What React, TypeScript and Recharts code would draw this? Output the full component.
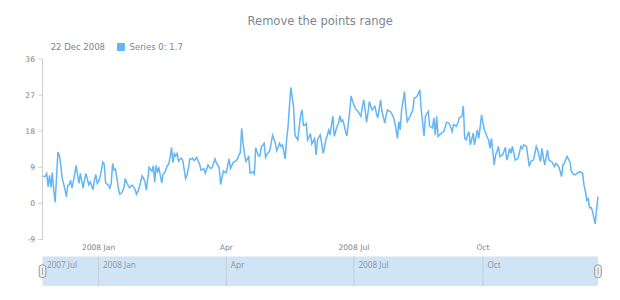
import { LineChart, Line, XAxis, YAxis, Brush } from "recharts"

// daily values, 22 Nov 2007 .. 22 Dec 2008
const values = [
  6.8, 6.7, 6.8, 7.4, 4.2, 7.0, 4.0, 7.7, 3.3, 0.3,
  6.5, 12.8, 12.0, 9.5, 6.3, 5.0, 3.5, 1.6, 4.5, 4.6,
  5.8, 3.8, 5.5, 7.5, 9.5, 7.0, 5.0, 7.5, 5.5, 3.8,
  6.0, 7.5, 6.0, 4.6, 5.3, 4.5, 3.4, 5.8, 7.2, 5.0,
  5.5, 6.5, 8.3, 10.3, 9.8, 5.1, 4.8, 4.5, 3.8, 5.1,
  10.0, 8.4, 8.5, 6.5, 4.0, 2.3, 2.5, 3.0, 3.8, 6.2,
  5.2, 4.5, 3.9, 4.3, 4.5, 4.0, 3.5, 2.3, 3.0, 4.0,
  5.5, 6.9, 6.3, 5.5, 3.3, 6.0, 9.0, 8.5, 8.0, 9.4,
  5.3, 9.5, 7.9, 8.8, 7.0, 5.1, 7.4, 7.6, 8.5, 9.4,
  9.8, 11.5, 13.9, 10.2, 12.4, 11.8, 12.5, 10.5, 11.0, 11.3,
  10.7, 8.5, 6.2, 7.0, 8.7, 11.1, 11.0, 11.3, 10.7, 11.0,
  11.5, 10.5, 9.8, 8.3, 8.5, 8.7, 7.5, 8.5, 9.6, 9.0,
  8.7, 9.0, 10.0, 11.1, 10.0, 9.6, 8.7, 4.7, 6.5, 8.1,
  7.8, 7.6, 9.5, 11.1, 8.7, 9.5, 10.2, 10.4, 10.6, 11.1,
  12.0, 12.7, 18.7, 15.0, 12.4, 10.5, 11.0, 11.8, 7.5, 7.7,
  7.9, 7.4, 13.9, 12.8, 11.8, 11.8, 14.2, 14.5, 15.0, 11.5,
  12.3, 12.7, 13.1, 15.0, 17.0, 16.0, 15.0, 13.1, 14.0, 15.0,
  14.2, 14.6, 13.0, 11.1, 15.8, 19.0, 24.0, 28.9, 26.5, 24.0,
  17.0, 16.4, 15.8, 19.0, 22.0, 23.3, 19.5, 19.5, 19.9, 15.8,
  16.5, 17.4, 14.8, 15.5, 16.2, 12.1, 15.8, 16.5, 17.1, 15.0,
  12.5, 14.0, 15.8, 17.0, 18.3, 17.1, 19.5, 21.7, 16.7, 18.0,
  19.2, 20.0, 21.9, 20.4, 20.8, 19.6, 18.0, 16.8, 20.0, 22.9,
  26.8, 25.5, 24.6, 23.7, 23.2, 22.9, 22.3, 21.7, 24.0, 25.8,
  23.3, 20.2, 22.5, 25.4, 24.2, 23.3, 23.8, 24.2, 22.5, 21.3,
  23.5, 25.8, 22.9, 21.5, 20.0, 22.0, 23.3, 23.0, 22.9, 22.3,
  21.7, 20.4, 18.5, 16.2, 20.4, 18.3, 23.3, 25.5, 27.9, 23.5,
  20.4, 21.0, 21.7, 22.5, 23.3, 26.3, 26.4, 26.7, 27.5, 28.3,
  23.3, 20.0, 16.8, 21.7, 22.3, 22.9, 19.2, 19.0, 18.8, 21.3,
  17.0, 21.7, 16.7, 17.1, 17.3, 17.7, 17.9, 19.0, 20.2, 20.2,
  19.9, 19.0, 17.9, 19.6, 19.5, 19.2, 20.0, 21.3, 21.5, 21.7,
  24.3, 16.2, 15.8, 17.0, 17.9, 14.6, 16.0, 17.5, 14.6, 16.5,
  18.3, 16.2, 19.0, 22.1, 20.0, 18.3, 17.5, 16.5, 15.8, 13.7,
  16.2, 13.0, 9.6, 12.1, 13.0, 14.2, 11.7, 11.9, 12.1, 13.0,
  14.0, 10.8, 12.0, 13.7, 12.5, 14.2, 12.5, 10.8, 11.0, 11.2,
  12.7, 14.2, 13.7, 14.6, 14.4, 14.2, 11.7, 9.2, 10.4, 10.6,
  10.8, 12.5, 14.2, 13.3, 11.8, 10.4, 13.7, 11.5, 9.6, 11.5,
  13.3, 10.8, 10.6, 10.4, 9.8, 9.2, 10.0, 9.6, 9.2, 8.0,
  6.7, 9.6, 10.0, 11.0, 11.7, 11.0, 10.4, 7.9, 7.5, 7.1,
  7.2, 7.5, 7.7, 7.9, 7.7, 7.5, 4.6, 3.0, 0.8, 1.2,
  -1.1, -1.0, -1.8, -3.5, -5.1, -1.5, 1.7,
]

const START = Date.UTC(2007, 10, 22)
const DAY = 86400000
const monthNames = ["Jan", "Feb", "Mar", "Apr", "May", "Jun", "Jul", "Aug", "Sep", "Oct", "Nov", "Dec"]

const mainTicks = [Date.UTC(2008, 0, 1), Date.UTC(2008, 3, 1), Date.UTC(2008, 6, 1), Date.UTC(2008, 9, 1)]
const mainTickLabels = ["2008 Jan", "Apr", "2008 Jul", "Oct"]
const scrollerTicks = [START, ...mainTicks]
const scrollerLabels = ["2007 Jul", "2008 Jan", "Apr", "2008 Jul", "Oct"]
const yTicks = [-9, 0, 9, 18, 27, 36]

const data = values.map((v, i) => ({ t: START + i * DAY, value: v }))
const last = data[data.length - 1]
const lastDate = new Date(last.t)
const lastLabel = `${lastDate.getUTCDate()} ${monthNames[lastDate.getUTCMonth()]} ${lastDate.getUTCFullYear()}`

const TEXT = "#7c868e"
const LINE = "#64b5f6"
const FONT = "DejaVu Sans"
const BAND_H = 29.5

function ScrollerTick(props: any) {
  const { x, y, payload } = props
  const i = scrollerTicks.indexOf(payload.value)
  return (
    <g>
      {i > 0 && <line x1={x} x2={x} y1={y} y2={y + BAND_H} stroke="#c3ccd6" />}
      <text x={x + 4.5} y={y + 11} fontSize={8.2} fill="#8a939a" fontFamily="Open Sans">
        {scrollerLabels[i]}
      </text>
    </g>
  )
}

function Handle(props: any) {
  const cx = props.x + props.width / 2
  const cy = props.y + props.height / 2
  return (
    <g>
      <rect x={cx - 3.3} y={cy - 6.3} width={6.6} height={12.6} rx={2.5} fill="#eeeeee" stroke="#9a9a9a" />
      <line x1={cx} x2={cx} y1={cy - 3.5} y2={cy + 3.5} stroke="#a8a8a8" />
    </g>
  )
}

export default function App() {
  return (
    <div style={{ position: "absolute", left: 0, top: 0, width: 620, height: 300, background: "#fff" }}>
      <div
        style={{
          position: "absolute", left: 42.5, top: 13.5, width: 555.5, textAlign: "center",
          fontFamily: FONT, fontSize: 11.5, lineHeight: "14px", color: TEXT,
        }}
      >
        Remove the points range
      </div>
      <div
        style={{
          position: "absolute", left: 50.7, top: 41, height: 12, display: "flex", alignItems: "center",
          fontFamily: FONT, fontSize: 8.5, lineHeight: "12px", color: TEXT, whiteSpace: "nowrap",
        }}
      >
        <span>{lastLabel}</span>
        <span style={{ display: "inline-block", width: 8, height: 8, background: LINE, marginLeft: 12, marginRight: 4.5 }} />
        <span>Series 0: {last.value}</span>
      </div>
      <LineChart width={620} height={300} data={data} margin={{ top: 59, right: 22, bottom: 4, left: 0 }}>
        <YAxis
          width={42.5}
          domain={[-9, 36]}
          ticks={yTicks}
          interval={0}
          axisLine={{ stroke: "#cecece" }}
          tickLine={{ stroke: "#cecece" }}
          tickSize={4}
          tickMargin={3.5}
          tick={{ fontSize: 7.6, fill: TEXT, fontFamily: FONT }}
        />
        <XAxis
          dataKey="t"
          type="number"
          domain={[START, last.t]}
          ticks={mainTicks}
          interval={0}
          height={17}
          axisLine={false}
          tickLine={false}
          tickSize={0}
          tickMargin={5.5}
          tick={{ fontSize: 7.6, fill: TEXT, fontFamily: FONT }}
          tickFormatter={(v: number) => mainTickLabels[mainTicks.indexOf(v)]}
        />
        <Line
          type="linear"
          dataKey="value"
          stroke={LINE}
          strokeWidth={1.5}
          dot={false}
          isAnimationActive={false}
        />
        <Brush
          y={256.5}
          height={BAND_H}
          travellerWidth={0}
          fill="#d1e4f6"
          stroke="none"
          traveller={(p: any) => <Handle {...p} />}
        />
        <XAxis
          xAxisId="scroller"
          dataKey="t"
          type="number"
          domain={[START, last.t]}
          ticks={scrollerTicks}
          interval={0}
          height={10}
          axisLine={false}
          tickLine={false}
          tickSize={0}
          tickMargin={0}
          tick={<ScrollerTick />}
        />
      </LineChart>
    </div>
  )
}
